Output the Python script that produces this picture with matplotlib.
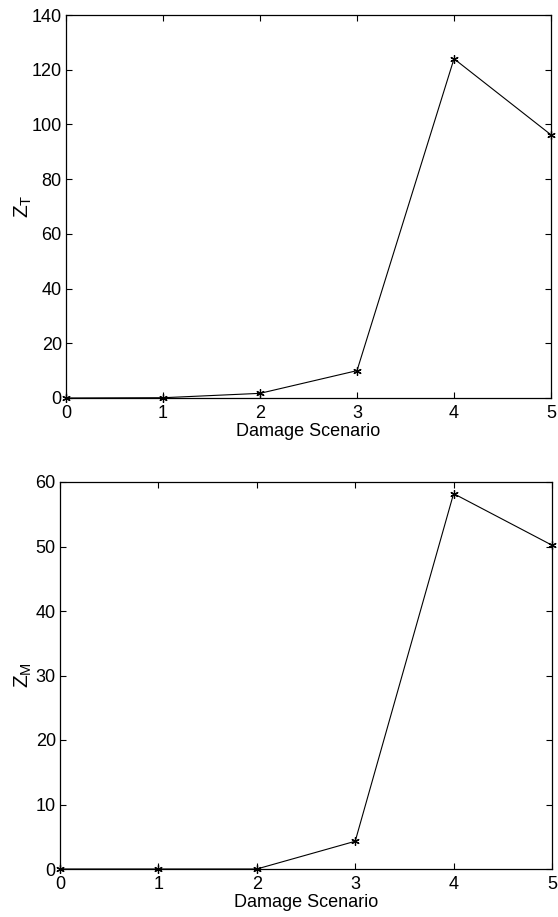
import matplotlib
matplotlib.use("Agg")
import matplotlib.pyplot as plt

plt.rcParams['font.family'] = ['Liberation Sans', 'DejaVu Sans']
plt.rcParams['mathtext.fontset'] = 'custom'
plt.rcParams['mathtext.rm'] = 'Liberation Sans'
plt.rcParams['mathtext.it'] = 'Liberation Sans'

scenarios = [0, 1, 2, 3, 4, 5]
z_t = [0.0, 0.1, 1.7, 10.0, 124.0, 96.2]
z_m = [0.0, 0.0, 0.0, 4.3, 58.2, 50.2]

x_ticks = [0, 1, 2, 3, 4, 5]
zt_ticks = [0, 20, 40, 60, 80, 100, 120, 140]
zm_ticks = [0, 10, 20, 30, 40, 50, 60]

W, H = 558, 917
fig = plt.figure(figsize=(W / 100, H / 100), dpi=100)

def box(l, t, r, b):
    return [l / W, 1 - b / H, (r - l) / W, (b - t) / H]

ax1 = fig.add_axes(box(66, 15, 551, 398))
ax2 = fig.add_axes(box(60, 482, 552, 869))

fs = 13
for ax, y, yt, ylab, lc in [
    (ax1, z_t, zt_ticks, r'$\mathregular{Z_T}$', (-0.066, 0.5)),
    (ax2, z_m, zm_ticks, r'$\mathregular{Z_M}$', (-0.053, 0.5)),
]:
    ax.plot(scenarios, y, color='black', linewidth=0.8, marker=(6, 2, 0),
            markersize=6, markeredgewidth=0.9, clip_on=False)
    ax.set_xlim(0, 5)
    ax.set_ylim(yt[0], yt[-1])
    ax.set_xticks(x_ticks)
    ax.set_yticks(yt)
    ax.tick_params(direction='in', top=True, right=True, length=4, width=0.8,
                   labelsize=fs, pad=3)
    ax.tick_params(axis='x', pad=5)
    for s in ax.spines.values():
        s.set_linewidth(0.9)
    ax.set_xlabel('Damage Scenario', fontsize=fs, labelpad=1)
    ax.set_ylabel(ylab, fontsize=15)
    ax.yaxis.set_label_coords(*lc)

fig.savefig('out.png', dpi=100)
